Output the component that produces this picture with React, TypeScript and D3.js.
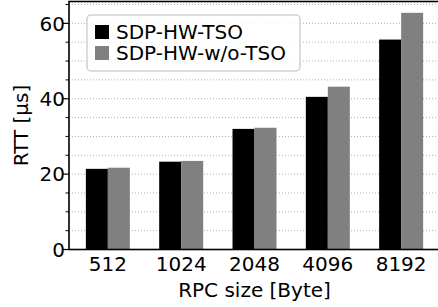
import React, { useEffect, useRef } from "react";
import * as d3 from "d3";

const categories = ["512", "1024", "2048", "4096", "8192"];
const seriesNames = ["SDP-HW-TSO", "SDP-HW-w/o-TSO"];
const withTso = [21.4, 23.3, 32.0, 40.5, 55.7];
const withoutTso = [21.7, 23.5, 32.3, 43.2, 62.8];
const seriesColors = ["#000000", "#808080"];
const yMajorTicks = [0, 20, 40, 60];
const yMinorTicks = [5, 10, 15, 25, 30, 35, 45, 50, 55, 65];

const W = 438;
const H = 307;
const FONT = "DejaVu Sans, sans-serif";

export default function App() {
  const ref = useRef<SVGSVGElement | null>(null);

  useEffect(() => {
    const svg = d3.select(ref.current);
    svg.selectAll("*").remove();

    const left = 69, right = 440, top = 1.5, bottom = 249.5;
    const x = d3.scaleLinear().domain([-0.53, 4.53]).range([left, right]);
    const y = d3.scaleLinear().domain([0, 65.8]).range([bottom, top]);
    const bw = 0.3;

    // grid
    const grid = svg.append("g");
    [...yMajorTicks.filter((t) => t > 0), ...yMinorTicks].forEach((t) => {
      grid.append("line")
        .attr("x1", left).attr("x2", right)
        .attr("y1", y(t)).attr("y2", y(t))
        .attr("stroke", "#b0b0b0").attr("stroke-width", 1)
        .attr("stroke-dasharray", "1,2");
    });

    // bars
    const series = [withTso, withoutTso];
    series.forEach((vals, s) => {
      svg.append("g").selectAll("rect").data(vals).enter().append("rect")
        .attr("x", (d, i) => x(i - bw + s * bw))
        .attr("width", (d, i) => x(i + s * bw) - x(i - bw + s * bw))
        .attr("y", (d) => y(d))
        .attr("height", (d) => y(0) - y(d))
        .attr("fill", seriesColors[s]);
    });

    // spines
    const sp = svg.append("g").attr("stroke", "#000").attr("stroke-width", 1.6).attr("fill", "none");
    sp.append("rect").attr("x", left).attr("y", top).attr("width", right - left).attr("height", bottom - top);

    // y ticks
    yMajorTicks.forEach((t) => {
      svg.append("line").attr("x1", left - 6).attr("x2", left).attr("y1", y(t)).attr("y2", y(t))
        .attr("stroke", "#000").attr("stroke-width", 1.2);
      svg.append("text").attr("x", left - 4).attr("y", y(t)).attr("dy", "0.36em")
        .attr("text-anchor", "end").attr("font-family", FONT).attr("font-size", 20)
        .text(String(t));
    });
    yMinorTicks.forEach((t) => {
      svg.append("line").attr("x1", left - 3.5).attr("x2", left).attr("y1", y(t)).attr("y2", y(t))
        .attr("stroke", "#000").attr("stroke-width", 1);
    });

    // x tick labels
    categories.forEach((c, i) => {
      svg.append("text").attr("x", x(i)).attr("y", 270.7)
        .attr("text-anchor", "middle").attr("font-family", FONT).attr("font-size", 20)
        .text(c);
    });

    // axis labels
    svg.append("text").attr("x", 254.5).attr("y", 297)
      .attr("text-anchor", "middle").attr("font-family", FONT).attr("font-size", 20)
      .text("RPC size [Byte]");
    svg.append("text").attr("transform", `translate(28,${(top + bottom) / 2}) rotate(-90)`)
      .attr("text-anchor", "middle").attr("font-family", FONT).attr("font-size", 20)
      .text("RTT [µs]");

    // legend
    const lg = svg.append("g");
    lg.append("rect").attr("x", 87).attr("y", 15).attr("width", 213).attr("height", 56)
      .attr("rx", 4).attr("fill", "#fff").attr("fill-opacity", 0.85)
      .attr("stroke", "#d0d0d0").attr("stroke-width", 1.5);
    seriesNames.forEach((n, i) => {
      lg.append("rect").attr("x", 95).attr("y", 25 + i * 21).attr("width", 14).attr("height", 14)
        .attr("fill", seriesColors[i]);
      lg.append("text").attr("x", 116).attr("y", 39 + i * 21)
        .attr("font-family", FONT).attr("font-size", 20).text(n);
    });
  }, []);

  return (
    <div style={{ position: "absolute", left: 0, top: 0 }}>
      <svg ref={ref} width={W} height={H} style={{ display: "block", background: "#fff" }} />
    </div>
  );
}
